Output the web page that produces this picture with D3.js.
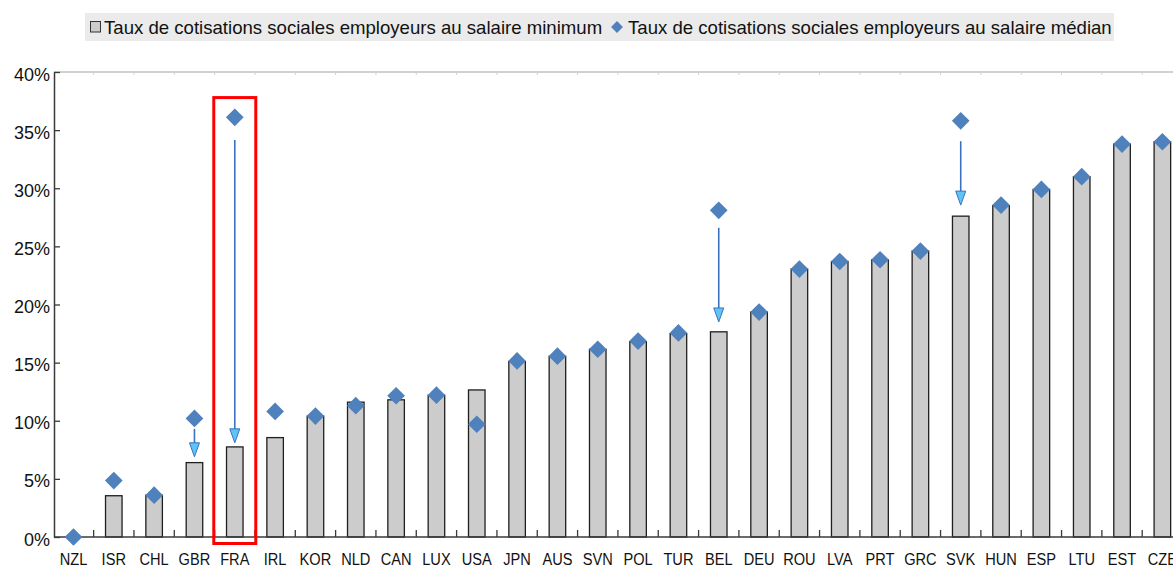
<!DOCTYPE html>
<html>
<head>
<meta charset="utf-8">
<script src="https://cdn.jsdelivr.net/npm/d3@7"></script>
<style>
  html, body { margin: 0; padding: 0; background: #fff; overflow: hidden; }
  svg { display: block; }
  text { font-family: "Liberation Sans", Arial, sans-serif; fill: #111; }
</style>
</head>
<body>
<div id="chart"></div>
<script>
// ---- data ----
const categories = ["NZL","ISR","CHL","GBR","FRA","IRL","KOR","NLD","CAN","LUX","USA","JPN","AUS","SVN","POL","TUR","BEL","DEU","ROU","LVA","PRT","GRC","SVK","HUN","ESP","LTU","EST","CZE"];
const minWageRate = [0, 3.55, 3.6, 6.4, 7.75, 8.55, 10.4, 11.6, 11.8, 12.2, 12.65, 15.1, 15.55, 16.15, 16.8, 17.5, 17.65, 19.35, 23.05, 23.7, 23.85, 24.6, 27.6, 28.5, 29.9, 31.0, 33.8, 34.0];
const medianRate = [0, 4.85, 3.6, 10.2, 36.1, 10.8, 10.4, 11.3, 12.15, 12.2, 9.7, 15.15, 15.55, 16.15, 16.85, 17.55, 28.1, 19.35, 23.05, 23.7, 23.85, 24.6, 35.8, 28.55, 29.9, 31.0, 33.8, 34.0];
const yTicks = [0, 5, 10, 15, 20, 25, 30, 35, 40];
const seriesNames = ["Taux de cotisations sociales employeurs au salaire minimum", "Taux de cotisations sociales employeurs au salaire médian"];
const arrowCats = ["GBR", "FRA", "BEL", "SVK"];
const arrowFrom = [9.3, 34.15, 26.6, 34.05];
const arrowTo = [6.9, 8.1, 18.5, 28.55];
const highlightCat = "FRA";
const highlightTop = 37.8;

// ---- layout ----
const W = 1200, H = 567;
const x0 = 53.3, step = 40.33;
const svg = d3.select("#chart").append("svg").attr("width", W).attr("height", H);

const x = d3.scaleBand().domain(categories)
  .range([x0, x0 + step * categories.length])
  .paddingInner(0.59).paddingOuter(0.295);
const y = d3.scaleLinear().domain([0, 40]).range([537, 72]);
const cx = c => x(c) + x.bandwidth() / 2;

// top border line with small ticks
svg.append("line").attr("x1", 54).attr("x2", W).attr("y1", y(40)).attr("y2", y(40))
  .attr("stroke", "#c0c0c0").attr("stroke-width", 1.5);
svg.append("g").selectAll("line").data(d3.range(1, categories.length + 1)).join("line")
  .attr("x1", i => x0 + i * step).attr("x2", i => x0 + i * step)
  .attr("y1", y(40)).attr("y2", y(40) + 3)
  .attr("stroke", "#d0d0d0").attr("stroke-width", 1);

// bars
svg.append("g").selectAll("rect").data(categories).join("rect")
  .attr("x", c => x(c))
  .attr("y", (c, i) => y(minWageRate[i]))
  .attr("width", x.bandwidth())
  .attr("height", (c, i) => y(0) - y(minWageRate[i]))
  .attr("fill", "#cccccc").attr("stroke", "#1f1f1f").attr("stroke-width", 1.3)
  .style("display", (c, i) => minWageRate[i] > 0 ? null : "none");

// x axis (bottom) with boundary ticks pointing up
const xAxisG = svg.append("g");
xAxisG.append("line").attr("x1", 54).attr("x2", W).attr("y1", y(0)).attr("y2", y(0))
  .attr("stroke", "#3a3a3a").attr("stroke-width", 1.5);
xAxisG.selectAll("line.tk").data(d3.range(1, categories.length + 1)).join("line").attr("class", "tk")
  .attr("x1", i => x0 + i * step).attr("x2", i => x0 + i * step)
  .attr("y1", y(0)).attr("y2", y(0) - 7)
  .attr("stroke", "#3a3a3a").attr("stroke-width", 1.3);
xAxisG.selectAll("text").data(categories).join("text")
  .attr("transform", c => `translate(${cx(c)},565) scale(0.86,1)`)
  .attr("text-anchor", "middle").attr("font-size", 17)
  .text(c => c);

// y axis
const yAxis = d3.axisLeft(y).tickValues(yTicks).tickFormat(d => d + "%").tickSizeInner(-6).tickSizeOuter(0).tickPadding(10);
const yG = svg.append("g").attr("transform", "translate(54,0)").call(yAxis);
yG.select(".domain").attr("stroke", "#3a3a3a").attr("stroke-width", 1.5);
yG.selectAll(".tick line").attr("stroke", "#3a3a3a").attr("stroke-width", 1.3);
yG.selectAll(".tick text").attr("font-size", 18).attr("font-family", "Liberation Sans, Arial, sans-serif")
  .attr("fill", "#111").attr("dy", "0.45em").attr("x", -4);

// arrows
const arrG = svg.append("g");
arrowCats.forEach((c, i) => {
  const xc = cx(c);
  const yTip = y(arrowTo[i]);
  arrG.append("line").attr("x1", xc).attr("x2", xc)
    .attr("y1", y(arrowFrom[i])).attr("y2", yTip - 12)
    .attr("stroke", "#3b72c0").attr("stroke-width", 1.6);
  arrG.append("path")
    .attr("d", `M${xc - 5},${yTip - 14} L${xc + 5},${yTip - 14} L${xc},${yTip} Z`)
    .attr("fill", "#5ec4f4").attr("stroke", "#3b72c0").attr("stroke-width", 1);
});

// diamonds
const diamond = d3.symbol().type(d3.symbolDiamond2).size(200);
svg.append("g").selectAll("path").data(categories).join("path")
  .attr("transform", (c, i) => `translate(${cx(c)},${y(medianRate[i])})`)
  .attr("d", diamond)
  .attr("fill", "#4f81bd");

// highlight rectangle
svg.append("rect")
  .attr("x", cx(highlightCat) - 21).attr("y", y(highlightTop))
  .attr("width", 42).attr("height", y(0) + 6.5 - y(highlightTop))
  .attr("fill", "none").attr("stroke", "#ff0000").attr("stroke-width", 3);

// legend
const lg = svg.append("g");
lg.append("rect").attr("x", 85).attr("y", 13).attr("width", 1029).attr("height", 28).attr("fill", "#ebebeb");
lg.append("rect").attr("x", 90.5).attr("y", 21.5).attr("width", 10).attr("height", 10.5)
  .attr("fill", "#cccccc").attr("stroke", "#333").attr("stroke-width", 1);
lg.append("text").attr("x", 104).attr("y", 34).attr("font-size", 18.6).text(seriesNames[0]);
lg.append("path").attr("transform", "translate(617,27)").attr("d", d3.symbol().type(d3.symbolDiamond2).size(90)).attr("fill", "#4f81bd");
lg.append("text").attr("x", 628).attr("y", 34).attr("font-size", 18.6).text(seriesNames[1]);
</script>
</body>
</html>
